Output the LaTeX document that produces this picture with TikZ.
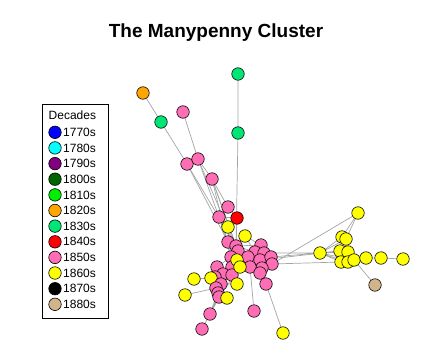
\documentclass[tikz,border=0pt]{standalone}
\usepackage{fontspec}
\setmainfont{Liberation Sans}
\usepackage{tikz}

\definecolor{c1770}{RGB}{0,0,255}
\definecolor{c1780}{RGB}{0,255,255}
\definecolor{c1790}{RGB}{128,0,128}
\definecolor{c1800}{RGB}{0,100,0}
\definecolor{c1810}{RGB}{0,238,0}
\definecolor{c1820}{RGB}{255,165,0}
\definecolor{c1830}{RGB}{0,230,118}
\definecolor{c1840}{RGB}{255,0,0}
\definecolor{c1850}{RGB}{255,110,180}
\definecolor{c1860}{RGB}{255,255,0}
\definecolor{c1870}{RGB}{0,0,0}
\definecolor{c1880}{RGB}{210,180,140}
\definecolor{edgegray}{RGB}{165,165,165}

\pgfdeclarelayer{bg}
\pgfsetlayers{bg,main}

\tikzset{
    vtx/.style={circle, draw=black, line width=0.6pt, minimum size=12.5pt, inner sep=0pt},
    key/.style={circle, draw=black, line width=0.6pt, minimum size=12.5pt, inner sep=0pt},
    keytext/.style={anchor=west, inner sep=0pt, font=\fontsize{12}{12}\selectfont},
    edge/.style={draw=edgegray, line width=0.7pt}
}

\begin{document}
\begin{tikzpicture}[x=1pt, y=-1pt]
    \useasboundingbox (0,0) rectangle (446,361);

    \node[font=\fontsize{19}{22}\selectfont\bfseries] (title) at (216,33) {The Manypenny Cluster};

    % legend
    \node[draw, line width=0.7pt, minimum width=66pt, minimum height=214pt, inner sep=0pt] (legbox) at (75,211) {};
    \node[keytext] (dec) at (48.5,115.5) {Decades};
    \node[key, fill=c1770] (k1770) at (55,132.3) {};
    \node[keytext] (t1770) at (63,132.3) {1770s};
    \node[key, fill=c1780] (k1780) at (55,147.9) {};
    \node[keytext] (t1780) at (63,147.9) {1780s};
    \node[key, fill=c1790] (k1790) at (55,163.6) {};
    \node[keytext] (t1790) at (63,163.6) {1790s};
    \node[key, fill=c1800] (k1800) at (55,179.2) {};
    \node[keytext] (t1800) at (63,179.2) {1800s};
    \node[key, fill=c1810] (k1810) at (55,194.9) {};
    \node[keytext] (t1810) at (63,194.9) {1810s};
    \node[key, fill=c1820] (k1820) at (55,210.5) {};
    \node[keytext] (t1820) at (63,210.5) {1820s};
    \node[key, fill=c1830] (k1830) at (55,226.1) {};
    \node[keytext] (t1830) at (63,226.1) {1830s};
    \node[key, fill=c1840] (k1840) at (55,241.8) {};
    \node[keytext] (t1840) at (63,241.8) {1840s};
    \node[key, fill=c1850] (k1850) at (55,257.4) {};
    \node[keytext] (t1850) at (63,257.4) {1850s};
    \node[key, fill=c1860] (k1860) at (55,273.0) {};
    \node[keytext] (t1860) at (63,273.0) {1860s};
    \node[key, fill=c1870] (k1870) at (55,288.7) {};
    \node[keytext] (t1870) at (63,288.7) {1870s};
    \node[key, fill=c1880] (k1880) at (55,304.3) {};
    \node[keytext] (t1880) at (63,304.3) {1880s};

    % outliers at the top
    \node[vtx, fill=c1820] (o1) at (143,93) {};
    \node[vtx, fill=c1830] (g1) at (161,122) {};
    \node[vtx, fill=c1830] (g2) at (238,74) {};
    \node[vtx, fill=c1830] (g3) at (238,133) {};
    \node[vtx, fill=c1850] (p1) at (183,112) {};
    \node[vtx, fill=c1850] (p2) at (187,164) {};
    \node[vtx, fill=c1850] (p3) at (198,159) {};
    \node[vtx, fill=c1850] (p4) at (212,179) {};
    \node[vtx, fill=c1850] (p5) at (228,207) {};
    \node[vtx, fill=c1850] (p6) at (219,217) {};
    \node[vtx, fill=c1840] (r1) at (237,218) {};
    \node[vtx, fill=c1860] (y1) at (228,227) {};
    \node[vtx, fill=c1860] (y2) at (245,236) {};

    % central cluster
    \node[vtx, fill=c1850] (p7) at (228,242) {};
    \node[vtx, fill=c1850] (p8) at (236,246) {};
    \node[vtx, fill=c1850] (p9) at (238,251) {};
    \node[vtx, fill=c1850] (p10) at (261,245) {};
    \node[vtx, fill=c1850] (p11) at (255,252) {};
    \node[vtx, fill=c1850] (p12) at (264,253) {};
    \node[vtx, fill=c1850] (p13) at (248,257) {};
    \node[vtx, fill=c1850] (p14) at (260,260) {};
    \node[vtx, fill=c1850] (p15) at (271,257) {};
    \node[vtx, fill=c1850] (p16) at (272,264) {};
    \node[vtx, fill=c1850] (p17) at (262,268) {};
    \node[vtx, fill=c1850] (p18) at (250,267) {};
    \node[vtx, fill=c1850] (p19) at (231,257) {};
    \node[vtx, fill=c1850] (p20) at (232,267) {};
    \node[vtx, fill=c1850] (p21) at (217,267) {};
    \node[vtx, fill=c1850] (p22) at (223,274) {};
    \node[vtx, fill=c1850] (p23) at (232,275) {};
    \node[vtx, fill=c1850] (p24) at (215,277) {};
    \node[vtx, fill=c1850] (p25) at (260,273) {};
    \node[vtx, fill=c1860] (y3) at (237,260) {};
    \node[vtx, fill=c1860] (y4) at (240,267) {};
    \node[vtx, fill=c1860] (y5) at (237,284) {};

    % lower left
    \node[vtx, fill=c1860] (y6) at (211,278) {};
    \node[vtx, fill=c1860] (y7) at (194,279) {};
    \node[vtx, fill=c1860] (y8) at (185,295) {};
    \node[vtx, fill=c1850] (p26) at (221,284) {};
    \node[vtx, fill=c1850] (p27) at (216,288) {};
    \node[vtx, fill=c1850] (p28) at (218,293) {};
    \node[vtx, fill=c1850] (p29) at (219,297) {};
    \node[vtx, fill=c1860] (y9) at (227,298) {};
    \node[vtx, fill=c1850] (p30) at (210,314) {};
    \node[vtx, fill=c1850] (p31) at (202,329) {};
    \node[vtx, fill=c1850] (p32) at (254,311) {};
    \node[vtx, fill=c1850] (p33) at (266,284) {};
    \node[vtx, fill=c1860] (y10) at (283,333) {};

    % right group
    \node[vtx, fill=c1860] (y11) at (320,253) {};
    \node[vtx, fill=c1860] (y12) at (342,237) {};
    \node[vtx, fill=c1860] (y13) at (346,239) {};
    \node[vtx, fill=c1860] (y14) at (340,251) {};
    \node[vtx, fill=c1860] (y15) at (348,252) {};
    \node[vtx, fill=c1860] (y16) at (341,262) {};
    \node[vtx, fill=c1860] (y17) at (348,262) {};
    \node[vtx, fill=c1860] (y18) at (354,260) {};
    \node[vtx, fill=c1860] (y19) at (366,258) {};
    \node[vtx, fill=c1860] (y20) at (381,258) {};
    \node[vtx, fill=c1860] (y21) at (403,259) {};
    \node[vtx, fill=c1860] (y22) at (358,213) {};
    \node[vtx, fill=c1880] (t1) at (375,285) {};

    \begin{pgfonlayer}{bg}
    % top links
    \draw[edge] (g2.center) -- (g3.center) -- (p8.center);
    \draw[edge] (o1.center) -- (g1.center) -- (p2.center) -- (p8.center);
    \draw[edge] (p2.center) -- (p7.center);
    \draw[edge] (p1.center) -- (p3.center) -- (p4.center) -- (p5.center);
    \draw[edge] (p3.center) -- (p7.center);
    \draw[edge] (p3.center) -- (p9.center);
    \draw[edge] (p4.center) -- (p8.center);
    \draw[edge] (p4.center) -- (p19.center);
    \draw[edge] (p4.center) -- (p9.center);
    \draw[edge] (p5.center) -- (p6.center) -- (r1.center) -- (p5.center);
    \draw[edge] (p6.center) -- (y1.center) -- (r1.center) -- (p8.center);
    \draw[edge] (y1.center) -- (p7.center);
    \draw[edge] (p6.center) -- (p19.center);
    \draw[edge] (y2.center) -- (p8.center);
    \draw[edge] (y2.center) -- (p10.center);
    \draw[edge] (y2.center) -- (p11.center);

    % central cluster
    \draw[edge] (p7.center) -- (p9.center) -- (p13.center) -- (p18.center) -- (p25.center) -- (p17.center) -- (p14.center) -- (p11.center) -- (p8.center) -- (p10.center) -- (p12.center) -- (p15.center) -- (p16.center) -- (p17.center);
    \draw[edge] (p10.center) -- (p11.center);
    \draw[edge] (p14.center) -- (p16.center);
    \draw[edge] (p13.center) -- (y3.center) -- (y4.center) -- (p20.center) -- (p19.center) -- (p9.center);
    \draw[edge] (p19.center) -- (p21.center) -- (p22.center) -- (p24.center) -- (p21.center);
    \draw[edge] (p20.center) -- (p23.center) -- (p22.center);
    \draw[edge] (y4.center) -- (p18.center);
    \draw[edge] (p12.center) -- (p14.center);

    % lower left
    \draw[edge] (p23.center) -- (y5.center) -- (p26.center) -- (p23.center);
    \draw[edge] (p22.center) -- (p26.center);
    \draw[edge] (y7.center) -- (y6.center) -- (p21.center);
    \draw[edge] (y8.center) -- (p27.center) -- (p24.center) -- (p26.center);
    \draw[edge] (p27.center) -- (p28.center) -- (p29.center) -- (y9.center) -- (p28.center);
    \draw[edge] (p26.center) -- (p28.center);
    \draw[edge] (y4.center) -- (p29.center);
    \draw[edge, line width=1.2pt] (p29.center) -- (p30.center) -- (p28.center);
    \draw[edge] (p30.center) -- (p31.center);
    \draw[edge] (p32.center) -- (p18.center);
    \draw[edge] (y10.center) -- (p33.center) -- (p17.center);

    % right group
    \draw[edge] (p15.center) -- (y11.center) -- (p12.center);
    \draw[edge] (p16.center) -- (y16.center);
    \draw[edge] (p14.center) -- (y14.center);
    \draw[edge] (p16.center) -- (y22.center) -- (y13.center);
    \draw[edge] (y22.center) -- (y12.center);
    \draw[edge] (y11.center) -- (y12.center) -- (y13.center) -- (y11.center);
    \draw[edge] (y11.center) -- (y14.center) -- (y15.center) -- (y11.center);
    \draw[edge] (y11.center) -- (y16.center) -- (y17.center) -- (y11.center);
    \draw[edge] (y15.center) -- (y18.center) -- (y17.center);
    \draw[edge] (y11.center) -- (y18.center) -- (y19.center) -- (y20.center) -- (y21.center);
    \draw[edge] (y18.center) -- (t1.center);
    \end{pgfonlayer}
\end{tikzpicture}
\end{document}
